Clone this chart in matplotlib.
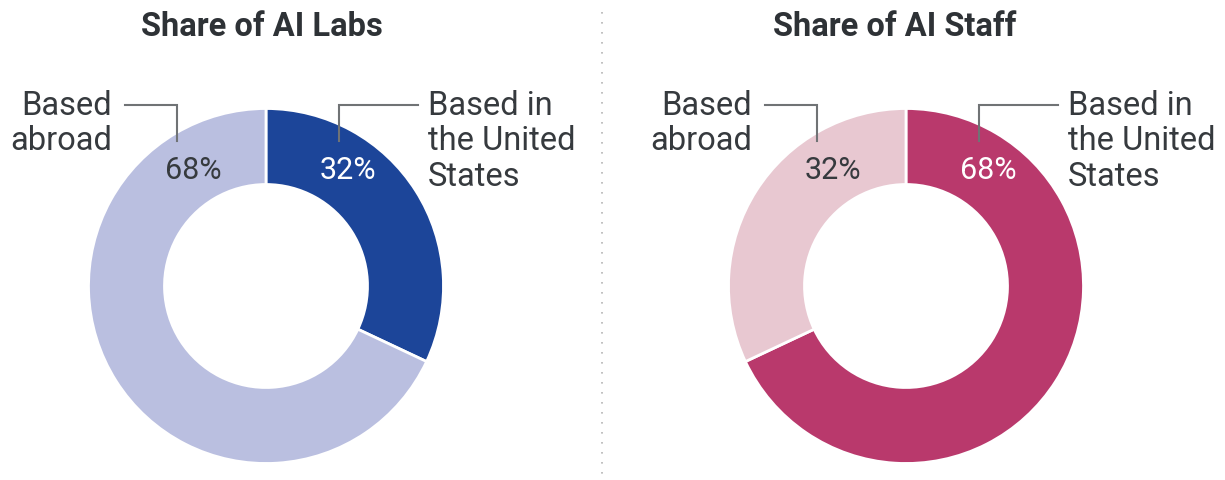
import matplotlib
matplotlib.use("Agg")
import matplotlib.pyplot as plt

# ---- data ----
titles = ["Share of AI Labs", "Share of AI Staff"]
categories = ["Based in\nthe United\nStates", "Based\nabroad"]
labs_values = [32, 68]      # US, abroad
staff_values = [68, 32]     # US, abroad
series = [labs_values, staff_values]
dark_colors = ["#1c4599", "#b9396c"]
light_colors = ["#babfe0", "#e8c8d1"]

W, H = 1225, 480
fig = plt.figure(figsize=(W / 100, H / 100), dpi=100)
ax = fig.add_axes([0, 0, 1, 1])
ax.set_xlim(0, W)
ax.set_ylim(0, H)
ax.set_aspect("equal")
ax.axis("off")

FONT = "Roboto"
TXT = "#363a3e"
LINE = "#707375"

def Y(y):
    return H - y

centers_x = [266, 906]
cy = 286
R = 177.5
ring = 76
title_x = [262, 895]
LSTEP = 35.5

def multiline(x, y0, label, ha):
    for k, line in enumerate(label.split("\n")):
        ax.text(x, Y(y0 + k * LSTEP), line, ha=ha, va="baseline",
                fontsize=23.5, family=FONT, color=TXT)

for i, vals in enumerate(series):
    cx = centers_x[i]
    ax.pie(vals, colors=[dark_colors[i], light_colors[i]], startangle=90,
           counterclock=False, center=(cx, Y(cy)), radius=R,
           wedgeprops=dict(width=ring, edgecolor="white", linewidth=2),
           frame=True)
    # title
    ax.text(title_x[i], Y(36), titles[i], ha="center", va="baseline",
            fontsize=23.5, fontweight="bold", family=FONT, color="#2e3236")
    # percentage labels
    ax.text(cx + 82, Y(179), f"{vals[0]}%", ha="center", va="baseline",
            fontsize=22, family=FONT, color="white")
    ax.text(cx - 73, Y(179), f"{vals[1]}%", ha="center", va="baseline",
            fontsize=22, family=FONT, color=TXT)
    # category labels
    multiline(cx - 154, 115, categories[1], "right")
    multiline(cx + 162, 115, categories[0], "left")
    # leader lines
    ax.plot([cx - 141, cx - 89, cx - 89], [Y(105), Y(105), Y(141)],
            color=LINE, lw=1.5, solid_joinstyle="miter")
    ax.plot([cx + 152, cx + 73, cx + 73], [Y(105), Y(105), Y(141)],
            color=LINE, lw=1.5, solid_joinstyle="miter")

ax.set_xlim(0, W)
ax.set_ylim(0, H)
ax.axis("off")

# dotted divider
ax.plot([602, 602], [Y(12), Y(476)], color="#b5b5b5", lw=1.2,
        linestyle=(0, (1, 5)))

fig.savefig("out.png", dpi=100, facecolor="white")
